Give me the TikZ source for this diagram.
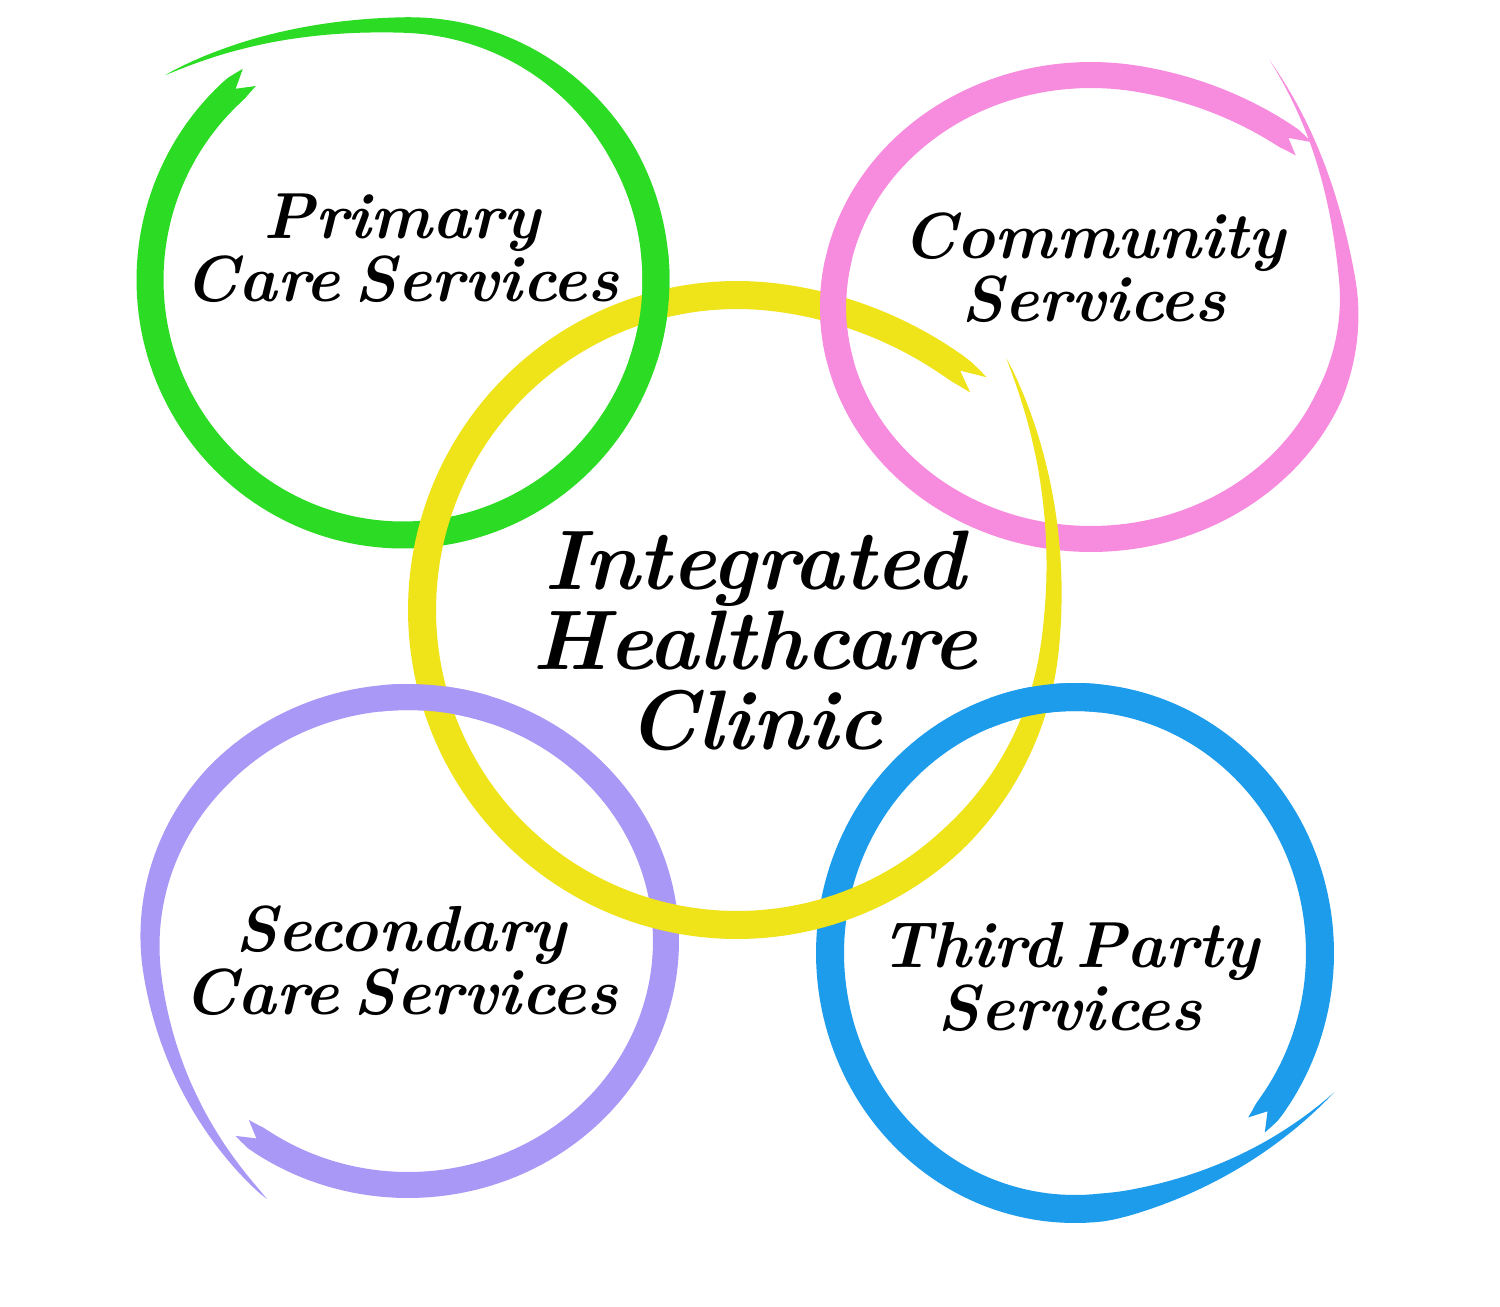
\documentclass[tikz,border=0pt]{standalone}
\usepackage{fontspec}
\definecolor{cgreen}{RGB}{44,220,36}
\definecolor{cpink}{RGB}{247,139,222}
\definecolor{cyellow}{RGB}{239,227,26}
\definecolor{cpurple}{RGB}{170,152,246}
\definecolor{cblue}{RGB}{30,156,236}
\pgfkeys{/ring/.cd,
 cx/.store in=\Rcx, cy/.store in=\Rcy, rx/.store in=\Rrx, ry/.store in=\Rry,
 a/.store in=\Ra, b/.store in=\Rb, w/.store in=\Rw, lb/.store in=\Rlb, p/.store in=\Rp,
 eb/.store in=\Reb, sb/.store in=\Rsb, ea/.store in=\Rea, sa/.store in=\Rsa, col/.store in=\Rcol}
\newcommand\brushring[1]{%
 \pgfkeys{/ring/.cd, ea=0, sa=40, eb=0, sb=50, p=1, #1}%
 \pgfmathsetmacro\Rn{\Ra+4}%
 \fill[\Rcol] plot[variable=\t, domain=\Ra:\Rb, samples=200]
   ({\Rcx+(\Rrx*mm(\t)+ww(\t)/2)*cos(\t)}, {\Rcy+(\Rry*mm(\t)+ww(\t)/2)*sin(\t)})
   -- plot[variable=\t, domain=\Rb:\Ra, samples=200]
   ({\Rcx+(\Rrx*mm(\t)-ww(\t)/2)*cos(\t)}, {\Rcy+(\Rry*mm(\t)-ww(\t)/2)*sin(\t)})
   -- ({\Rcx+\Rrx*mm(\Rn)*cos(\Rn)}, {\Rcy+\Rry*mm(\Rn)*sin(\Rn)}) -- cycle;}
\newcommand\ringgreen{\brushring{col=cgreen, cx=403, cy=-280, rx=253, ry=255, a=127.4, b=499.5, w=27, lb=110, p=0.7, eb=0.237, sb=50}}
\newcommand\ringpink{\brushring{col=cpink, cx=1091, cy=-307, rx=258, ry=232, a=-320.4, b=57, w=26, lb=80, p=1, eb=0.27, sb=50, ea=0.07, sa=40}}
\newcommand\ringyellow{\brushring{col=cyellow, cx=737, cy=-610, rx=315, ry=315, a=-317, b=43, w=28, lb=90, p=0.7, eb=0.17, sb=50, ea=0.048, sa=40}}
\newcommand\ringpurple{\brushring{col=cpurple, cx=408, cy=-941, rx=258, ry=244, a=230, b=602.6, w=26, lb=105, p=0.6, eb=0.19, sb=55}}
\newcommand\ringblue{\brushring{col=cblue, cx=1075, cy=-953, rx=245, ry=256, a=-42.2, b=332.8, w=28, lb=56, p=1, eb=0.19, sb=50}}
\newcommand\tightsp{\spaceskip 0.22em\relax}
\tikzset{
 lbl/.style={font=\fontsize{18.5}{18}\selectfont\bfseries\itshape\tightsp, align=center, inner sep=0pt},
 biglbl/.style={font=\fontsize{24}{22.8}\selectfont\bfseries\itshape, align=center, inner sep=0pt},
}
\begin{document}
\begin{tikzpicture}[x=0.01cm, y=0.01cm,
 declare function={
  mm(\t)=1+\Reb*(max(0,((\t)-(\Rb)+\Rsb)/\Rsb))^2+\Rea*(max(0,((\Ra)+\Rsa-(\t))/\Rsa))^2;
  ww(\t)=\Rw*min(1,0.8+((\t)-(\Ra))/20)*(max(0.0001,min(1,((\Rb)-(\t))/\Rlb)))^\Rp;
 }]
\fill[white] (0,0) rectangle (1500,-1306);
\useasboundingbox (0,0) rectangle (1500,-1306);
% outer rings
\ringgreen
\ringpink
\ringpurple
\ringblue
% central ring
\ringyellow
% outer rings passing over the central ring at the upper crossings
\begin{scope}\clip (600,-250) rectangle (700,-360); \ringgreen \end{scope}
\begin{scope}\clip (790,-260) rectangle (880,-360); \ringpink \end{scope}
\begin{scope}\clip (380,-650) rectangle (490,-760); \ringpurple \end{scope}
\begin{scope}\clip (990,-650) rectangle (1100,-760); \ringblue \end{scope}
% labels
\node[lbl] (primary) at (402,-248) {Primary\\Care Services};
\node[lbl] (community) at (1094,-268) {Community\\Services};
\node[biglbl] (clinic) at (755,-641) {Integrated\\Healthcare\\Clinic};
\node[lbl] (secondary) at (401,-961) {Secondary\\Care Services};
\node[lbl] (third) at (1070,-977) {Third Party\\Services};
\end{tikzpicture}
\end{document}
